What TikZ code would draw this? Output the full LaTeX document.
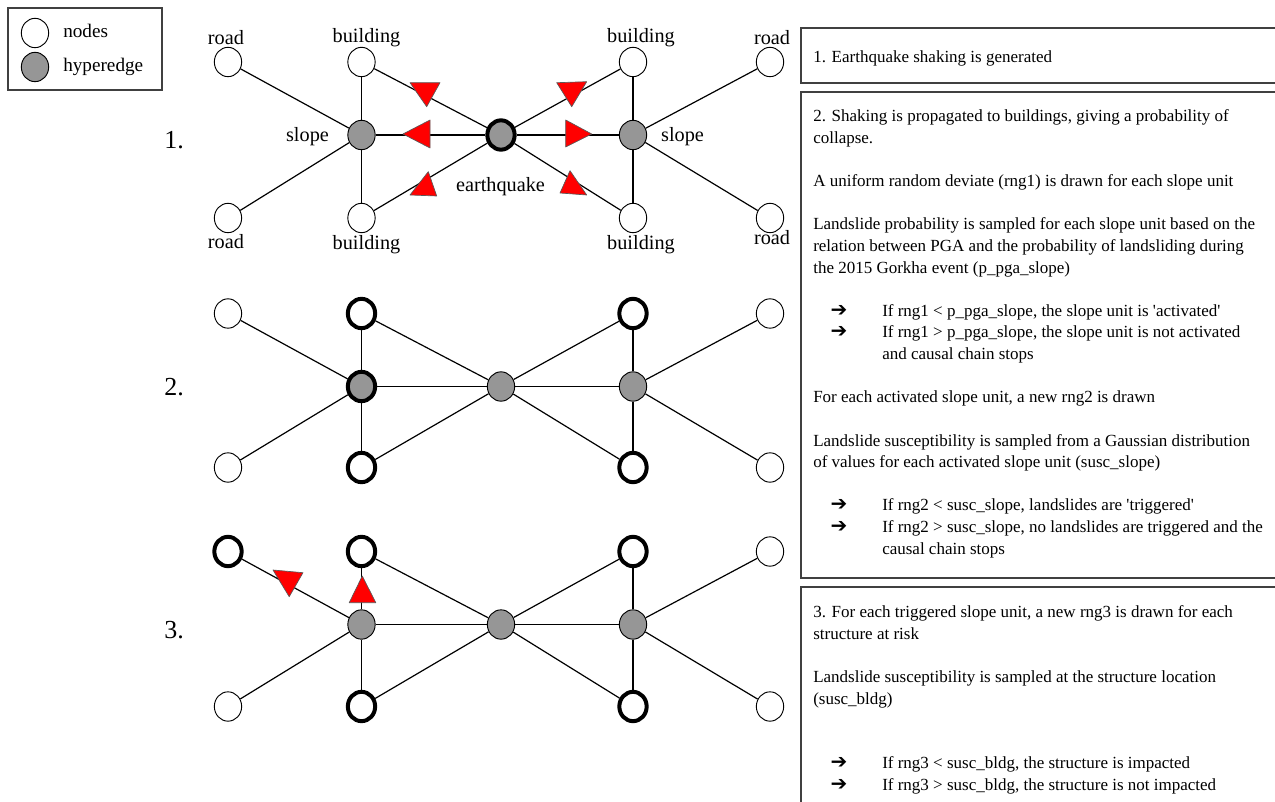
\documentclass[tikz,border=0pt]{standalone}
\usepackage{fontspec}
\setmainfont{Liberation Serif}
\newfontfamily\symfont{DejaVu Sans}
\usetikzlibrary{shapes.geometric}
\definecolor{hypgray}{RGB}{150,150,150}
\definecolor{boxline}{RGB}{64,64,64}
\definecolor{flagred}{RGB}{255,0,0}
\newcommand{\arrline}{\makebox[51.75pt][l]{\hspace*{13pt}{\symfont\fontsize{15}{15}\selectfont ➔}}}
\newcommand{\indline}{\hspace*{51.75pt}}

\begin{document}
\begin{tikzpicture}[x=0.75pt,y=-0.75pt,
  nd/.style={ellipse,draw,fill=white,line width=0.7pt,minimum width=20.5pt,minimum height=22pt,inner sep=0pt},
  hy/.style={nd,fill=hypgray},
  hit/.style={line width=3pt},
  link/.style={line width=0.9pt},
  flag/.style={fill=flagred,draw=black!65,line width=0.5pt,line join=round},
  lbl/.style={font=\fontsize{15.2}{18}\selectfont,anchor=base,inner sep=0pt},
  keytxt/.style={font=\fontsize{14.4}{17}\selectfont,anchor=base west,inner sep=0pt},
  stage/.style={font=\fontsize{19.5}{22}\selectfont,anchor=base west,inner sep=0pt},
  boxtxt/.style={font=\fontsize{12.75}{16}\selectfont,anchor=base west,inner sep=0pt}]
  \useasboundingbox (0,0) rectangle (1275,802);

  % legend
  \draw[boxline,line width=1.1pt] (8,8) rectangle (162,90);
  \node[nd] (keynd) at (35,33) {};
  \node[hy] (keyhy) at (35,67) {};
  \node[keytxt] (keyndt) at (63,37.5) {nodes};
  \node[keytxt] (keyhyt) at (63,72) {hyperedge};

  \node[stage] (s1) at (164,149) {1.};
  \node[stage] (s2) at (164,396) {2.};
  \node[stage] (s3) at (164,638) {3.};

  % stage 1
  \node[nd] (rdA1) at (228,62) {};
  \node[nd] (bdA1) at (361.5,62) {};
  \node[nd] (bdB1) at (633,62) {};
  \node[nd] (rdB1) at (770,62) {};
  \node[hy] (slA1) at (361.5,135) {};
  \node[hy,hit] (eq1) at (501,135) {};
  \node[hy] (slB1) at (633,135) {};
  \node[nd] (rdC1) at (228,218) {};
  \node[nd] (bdC1) at (361.5,218) {};
  \node[nd] (bdD1) at (633,218) {};
  \node[nd] (rdD1) at (770,218) {};

  \node[lbl] (lrdA) at (226,45) {road};
  \node[lbl] (lbdA) at (366.5,43) {building};
  \node[lbl] (lbdB) at (641,43) {building};
  \node[lbl] (lrdB) at (772,45) {road};
  \node[lbl] (lslA) at (307.5,141.5) {slope};
  \node[lbl] (lslB) at (682.5,141.5) {slope};
  \node[lbl] (leq) at (500.5,191.5) {earthquake};
  \node[lbl] (lrdC) at (226,249) {road};
  \node[lbl] (lbdC) at (366.5,250) {building};
  \node[lbl] (lbdD) at (641,250) {building};
  \node[lbl] (lrdD) at (772,245) {road};

  % stage 2
  \node[nd] (rdA2) at (228,313.5) {};
  \node[nd,hit] (bdA2) at (361.5,313.5) {};
  \node[nd,hit] (bdB2) at (633,313.5) {};
  \node[nd] (rdB2) at (770,313.5) {};
  \node[hy,hit] (slA2) at (361.5,386.5) {};
  \node[hy] (eq2) at (501,386.5) {};
  \node[hy] (slB2) at (633,386.5) {};
  \node[nd] (rdC2) at (228,467.5) {};
  \node[nd,hit] (bdC2) at (361.5,467.5) {};
  \node[nd,hit] (bdD2) at (633,467.5) {};
  \node[nd] (rdD2) at (770,467.5) {};

  % stage 3
  \node[nd,hit] (rdA3) at (228,551.5) {};
  \node[nd,hit] (bdA3) at (361.5,551.5) {};
  \node[nd,hit] (bdB3) at (633,551.5) {};
  \node[nd] (rdB3) at (770,551.5) {};
  \node[hy] (slA3) at (361.5,624.5) {};
  \node[hy] (eq3) at (501,624.5) {};
  \node[hy] (slB3) at (633,624.5) {};
  \node[nd] (rdC3) at (228,706.5) {};
  \node[nd,hit] (bdC3) at (361.5,706.5) {};
  \node[nd,hit] (bdD3) at (633,706.5) {};
  \node[nd] (rdD3) at (770,706.5) {};

  \foreach \r in {1,2,3}
    \foreach \p/\q in {rdA/slA,rdC/slA,bdA/slA,bdC/slA,slA/eq,bdA/eq,bdC/eq,
                       eq/slB,eq/bdB,eq/bdD,slB/bdB,slB/bdD,slB/rdB,slB/rdD}
      \draw[link] (\p\r) -- (\q\r);

  % shaking
  \draw[flag] (410,82.7) -- (440,82.7) -- (426.7,106.7) -- cycle;
  \draw[flag] (556.7,82.7) -- (586.7,81.7) -- (571.7,106.7) -- cycle;
  \draw[flag] (403,134) -- (430,120) -- (430,148) -- cycle;
  \draw[flag] (591.7,134) -- (565.7,120) -- (565.7,147) -- cycle;
  \draw[flag] (410,195) -- (436.7,196) -- (428.3,171.7) -- cycle;
  \draw[flag] (560,193) -- (586.7,195) -- (570,170.7) -- cycle;

  % landslide
  \draw[flag] (273,570) -- (303,572.7) -- (289.2,596.7) -- cycle;
  \draw[flag] (349.2,602.7) -- (375.8,602.7) -- (362.3,576) -- cycle;

  % text boxes
  \draw[boxline,line width=1.1pt] (1280,28) -- (801,28) -- (801,83) -- (1280,83);
  \draw[boxline,line width=1.1pt] (1280,92) -- (801,92) -- (801,578) -- (1280,578);
  \draw[boxline,line width=1.1pt] (1280,587) -- (801,587) -- (801,810);

  \node[boxtxt] (t1) at (813,62.5) {1. Earthquake shaking is generated};

  \foreach \ln/\txt in {
    0/{2. Shaking is propagated to buildings, giving a probability of},
    1/{collapse.},
    3/{A uniform random deviate (rng1) is drawn for each slope unit},
    5/{Landslide probability is sampled for each slope unit based on the},
    6/{relation between PGA and the probability of landsliding during},
    7/{the 2015 Gorkha event (p\_pga\_slope)},
    9/{\arrline If rng1 < p\_pga\_slope, the slope unit is \textquotesingle activated\textquotesingle},
    10/{\arrline If rng1 > p\_pga\_slope, the slope unit is not activated},
    11/{\indline and causal chain stops},
    13/{For each activated slope unit, a new rng2 is drawn},
    15/{Landslide susceptibility is sampled from a Gaussian distribution},
    16/{of values for each activated slope unit (susc\_slope)},
    18/{\arrline If rng2 < susc\_slope, landslides are \textquotesingle triggered\textquotesingle},
    19/{\arrline If rng2 > susc\_slope, no landslides are triggered and the},
    20/{\indline causal chain stops}}
    \node[boxtxt] (p\ln) at (813,122+21.6*\ln) {\txt};

  \foreach \ln/\txt in {
    0/{3. For each triggered slope unit, a new rng3 is drawn for each},
    1/{structure at risk},
    3/{Landslide susceptibility is sampled at the structure location},
    4/{(susc\_bldg)},
    7/{\arrline If rng3 < susc\_bldg, the structure is impacted},
    8/{\arrline If rng3 > susc\_bldg, the structure is not impacted}}
    \node[boxtxt] (q\ln) at (813,617.7+21.6*\ln) {\txt};
\end{tikzpicture}
\end{document}
